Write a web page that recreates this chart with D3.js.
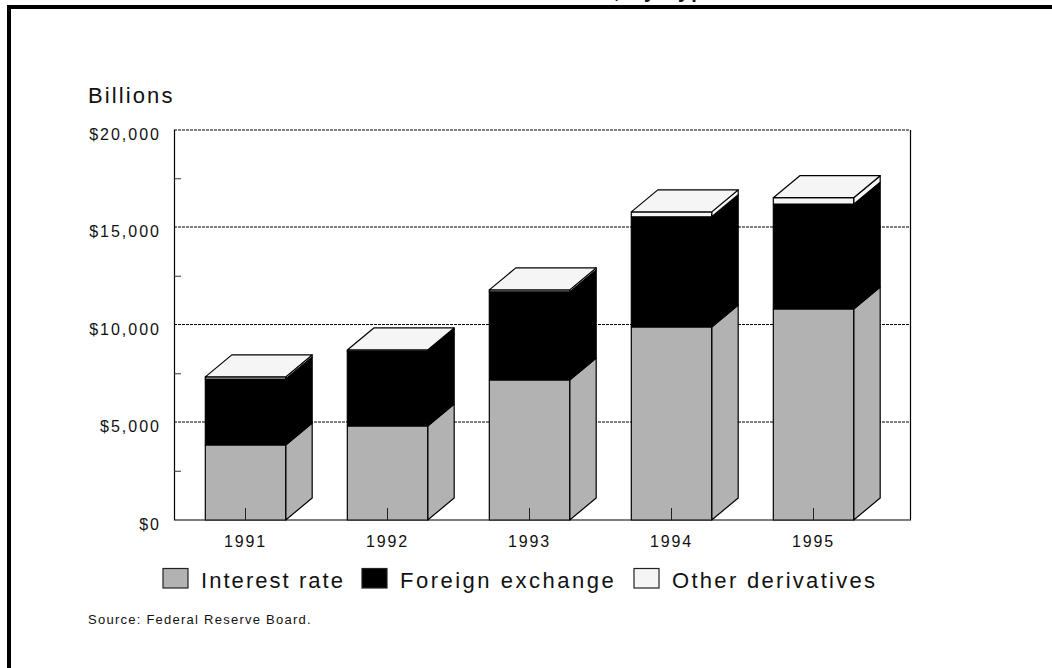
<!DOCTYPE html>
<html><head><meta charset="utf-8">
<style>html,body{margin:0;padding:0;background:#fff}svg{display:block}text{font-family:"Liberation Sans",Arial,sans-serif;fill:#111}</style>
<script src="https://cdn.jsdelivr.net/npm/d3@7"></script></head><body>
<svg id="c" width="1052" height="668"></svg>
<script>
const years = ["1991","1992","1993","1994","1995"];
const interestRate = [3850,4820,7180,9900,10820];
const foreignExchange = [3380,3830,4520,5650,5380];
const otherDerivatives = [110,70,100,250,330];
const seriesNames = ["Interest rate","Foreign exchange","Other derivatives"];
const seriesColors = ["#b2b2b2","#000000","#f5f5f5"];
const yTickLabels = ["$0","$5,000","$10,000","$15,000","$20,000"];
const yTickValues = [0,5000,10000,15000,20000];
const yMinorTicks = [2500,7500,12500,17500];

const svg = d3.select("#c");
const x = d3.scaleBand().domain(years).range([174.5,884.5]).paddingInner(0.434).paddingOuter(0.217);
const y = d3.scaleLinear().domain([0,20000]).range([520,130]);
const dx = 26.5, dy = -22, right = 910;

// frame
svg.append("path").attr("d","M9,668V7H1052").attr("fill","none").attr("stroke","#000").attr("stroke-width",4);
// clipped title
svg.append("text").attr("x",719).attr("y",-2.5).attr("text-anchor","end").attr("font-weight","bold").attr("font-size",20).style("letter-spacing","2.2px").text("Derivatives, by Type");

// plot
const g = svg.append("g");
g.selectAll("line.grid").data(yTickValues.filter(d=>d>0)).join("line")
 .attr("x1",174).attr("x2",right).attr("y1",d=>y(d)-.5+(d===20000?.5:0)).attr("y2",d=>y(d)-.5+(d===20000?.5:0))
 .attr("stroke","#000").attr("stroke-width",1).attr("stroke-dasharray","3 1");
g.append("path").attr("d",`M${right}.5,130V520H174.5V130`).attr("fill","none").attr("stroke","#000").attr("stroke-width",1.2);

const yAxis = d3.axisLeft(y).tickValues(yTickValues).tickFormat((d,i)=>yTickLabels[i]).tickSize(0).tickPadding(13);
const ya = g.append("g").attr("transform","translate(174,4)").call(yAxis);
ya.select(".domain").remove();
ya.selectAll("text").attr("font-size",16).attr("font-family","Liberation Sans").style("letter-spacing","2px").attr("fill","#111");
g.selectAll("line.minor").data(yMinorTicks).join("line")
 .attr("x1",174).attr("x2",181).attr("y1",d=>y(d)).attr("y2",d=>y(d)).attr("stroke","#333");

// bars
const stacked = years.map((yr,i)=>{
  const v=[interestRate[i],foreignExchange[i],otherDerivatives[i]];
  let c=0; return {yr,segs:v.map((d,k)=>({k,y0:c,y1:(c+=d)}))};
});
const bars = g.selectAll("g.bar").data(stacked).join("g");
const stroke = {stroke:"#000","stroke-width":1.2,"stroke-linejoin":"round"};
function face(sel,d,fill){const p=sel.append("path").attr("d",d).attr("fill",fill);Object.entries(stroke).forEach(([a,b])=>p.attr(a,b));}
bars.each(function(b){
  const s=d3.select(this), x0=x(b.yr), x1=x0+x.bandwidth();
  b.segs.forEach(seg=>{
    const t=y(seg.y1), o=y(seg.y0);
    face(s,`M${x1},${o}L${x1+dx},${o+dy}V${t+dy}L${x1},${t}Z`,seriesColors[seg.k]);
    face(s,`M${x0},${o}H${x1}V${t}H${x0}Z`,seriesColors[seg.k]);
  });
  const t=y(b.segs[2].y1);
  face(s,`M${x0},${t}L${x0+dx},${t+dy}H${x1+dx}L${x1},${t}Z`,seriesColors[2]);
});

// x axis
const xAxis = d3.axisBottom(x).tickSize(-12).tickPadding(16);
const xa = g.append("g").attr("transform","translate(0,520)").call(xAxis);
xa.select(".domain").remove();
xa.selectAll("line").attr("stroke","#222");
xa.selectAll("text").attr("font-size",16).attr("font-family","Liberation Sans").style("letter-spacing","1.8px").attr("fill","#111");

// labels
svg.append("text").attr("x",88).attr("y",103).attr("font-size",22).style("letter-spacing","2.1px").text("Billions");
svg.append("text").attr("x",88).attr("y",624).attr("font-size",13).style("letter-spacing","1.25px").text("Source: Federal Reserve Board.");

// legend
const legendX=[163,362,634], legendTextX=[201,400,672], legendSpacing=[2.05,2.5,2.3];
seriesNames.forEach((n,i)=>{
  svg.append("rect").attr("x",legendX[i]).attr("y",568.5).attr("width",25).attr("height",19.5).attr("fill",seriesColors[i]).attr("stroke","#222").attr("stroke-width",1.2);
  svg.append("text").attr("x",legendTextX[i]).attr("y",588).attr("font-size",22).style("letter-spacing",legendSpacing[i]+"px").text(n);
});
</script></body></html>
